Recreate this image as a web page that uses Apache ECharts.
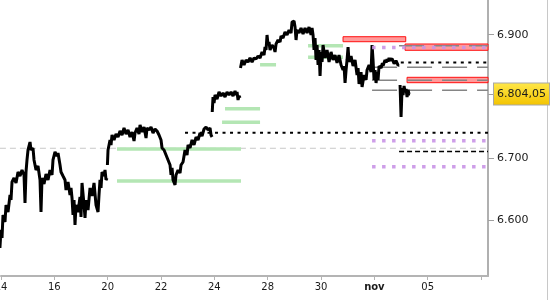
<!DOCTYPE html>
<html><head><meta charset="utf-8">
<script src="https://cdn.jsdelivr.net/npm/echarts@6/dist/echarts.min.js"></script>
<style>html,body{margin:0;padding:0;background:#fff}#c{width:550px;height:300px}</style>
</head><body><div id="c"></div>
<script>
// x axis: trading days since Oct 14 (0 = Oct 14, 14 = Nov 3)
const xTickValues = [0, 2, 4, 6, 8, 10, 12, 14, 16];
const xTickLabels = ['14', '16', '20', '22', '24', '28', '30', 'nov', '05'];
const xTickMarks = [0, 2, 4, 6, 8, 10, 12, 14, 16, 18];
const xMax = 18.26;
const yMin = 6509.6, yMax = 6956.2;
const yTickValues = [6600, 6700, 6900];
const lastPrice = 6804.05;

// price segments [tradingDay, price]
const seg1 = [[-0.04,6554.9],[0,6584.1],[0.038,6571.1],[0.075,6608.3],[0.15,6597.0],[0.188,6624.5],[0.263,6613.2],[0.338,6640.7],[0.375,6632.6],[0.413,6661.7],[0.488,6668.2],[0.563,6660.1],[0.638,6677.9],[0.713,6671.4],[0.788,6681.1],[0.863,6673.1],[0.9,6627.7],[0.938,6677.9],[0.975,6697.4],[1.013,6713.5],[1.088,6726.4],[1.125,6713.5],[1.2,6716.7],[1.238,6697.4],[1.275,6700.6],[1.313,6681.1],[1.388,6687.6],[1.463,6665.0],[1.5,6613.2],[1.538,6668.2],[1.613,6658.5],[1.688,6674.7],[1.763,6665.0],[1.838,6681.1],[1.913,6673.1],[1.95,6697.4],[2.025,6710.3],[2.1,6703.8],[2.138,6708.7],[2.213,6689.2],[2.25,6677.9],[2.325,6671.4],[2.4,6665.0],[2.438,6648.8],[2.513,6661.7],[2.588,6640.7],[2.625,6652.0],[2.663,6635.8],[2.7,6608.3],[2.738,6632.6],[2.775,6592.2],[2.813,6624.5],[2.888,6613.2],[2.963,6637.5],[3.0,6605.1],[3.038,6660.1],[3.113,6624.5],[3.15,6603.5],[3.188,6632.6],[3.263,6616.4],[3.338,6652.0],[3.413,6639.1],[3.488,6660.1],[3.563,6624.5],[3.638,6613.2],[3.675,6640.7],[3.713,6665.0],[3.75,6652.0],[3.788,6677.9],[3.863,6671.4],[3.9,6681.1],[3.938,6665.0],[3.975,6668.2]];
const seg2 = [[3.99,6689.2],[4.013,6713.5],[4.088,6729.7],[4.125,6721.6],[4.163,6737.8],[4.238,6729.7],[4.313,6739.4],[4.388,6734.5],[4.463,6744.2],[4.538,6737.8],[4.613,6749.1],[4.688,6739.4],[4.763,6745.9],[4.838,6734.5],[4.913,6742.6],[4.988,6728.1],[5.025,6741.0],[5.1,6749.1],[5.175,6739.4],[5.213,6754.0],[5.288,6742.6],[5.363,6750.7],[5.438,6732.9],[5.475,6749.1],[5.55,6745.9],[5.625,6750.7],[5.7,6741.0],[5.775,6747.5],[5.85,6744.2],[5.925,6737.8],[6.0,6729.7],[6.038,6716.7],[6.113,6713.5],[6.188,6705.4],[6.263,6697.4],[6.338,6689.2],[6.375,6673.1],[6.413,6684.4],[6.45,6665.0],[6.525,6656.9],[6.563,6673.1],[6.638,6681.1],[6.713,6676.3],[6.75,6689.2],[6.825,6694.1],[6.9,6713.5],[6.975,6705.4],[7.013,6721.6],[7.088,6716.7],[7.163,6729.7],[7.238,6721.6],[7.313,6734.5],[7.388,6729.7],[7.463,6741.0],[7.538,6736.1],[7.613,6747.5],[7.688,6750.7],[7.763,6745.9],[7.838,6749.1],[7.875,6737.8],[7.913,6734.5]];
const seg3 = [[7.92,6775.0],[7.95,6799.3],[7.988,6789.6],[8.025,6802.5],[8.1,6796.0],[8.175,6807.3],[8.25,6800.9],[8.325,6805.7],[8.4,6799.3],[8.475,6807.3],[8.55,6802.5],[8.625,6807.3],[8.7,6800.9],[8.775,6809.0],[8.813,6802.5],[8.85,6807.3],[8.888,6794.4],[8.925,6800.9],[8.963,6797.6]];
const seg4 = [[8.98,6846.2],[9.038,6859.1],[9.113,6851.0],[9.188,6859.1],[9.263,6855.9],[9.338,6862.4],[9.413,6855.9],[9.488,6862.4],[9.563,6860.7],[9.638,6865.6],[9.713,6862.4],[9.788,6872.1],[9.863,6867.2],[9.9,6880.1],[9.938,6875.3],[9.975,6899.6],[10.013,6883.4],[10.05,6888.2],[10.088,6875.3],[10.163,6883.4],[10.238,6878.5],[10.275,6872.1],[10.313,6885.0],[10.388,6891.5],[10.463,6888.2],[10.5,6898.0],[10.575,6894.7],[10.65,6904.4],[10.725,6899.6],[10.8,6907.7],[10.838,6910.9],[10.875,6902.8],[10.913,6920.6],[10.988,6922.2],[11.025,6912.5],[11.063,6891.5],[11.1,6907.7],[11.175,6902.8],[11.25,6910.9],[11.325,6901.2],[11.4,6910.9],[11.475,6902.8],[11.55,6912.5],[11.625,6899.6],[11.663,6910.9],[11.7,6899.6],[11.738,6875.3],[11.775,6894.7],[11.813,6859.1],[11.85,6883.4],[11.888,6851.0],[11.925,6875.3],[11.963,6833.2],[12.0,6872.1],[12.038,6855.9],[12.075,6883.4],[12.15,6862.4],[12.225,6875.3],[12.3,6855.9],[12.375,6872.1],[12.45,6859.1],[12.525,6867.2],[12.6,6854.3],[12.675,6867.2],[12.75,6851.0],[12.825,6842.9],[12.863,6849.4],[12.9,6821.9],[12.938,6842.9],[12.975,6859.1],[13.013,6880.1],[13.05,6855.9],[13.125,6865.6],[13.2,6849.4],[13.275,6859.1],[13.35,6834.9],[13.388,6846.2],[13.425,6820.3],[13.5,6839.7],[13.538,6815.4],[13.613,6834.9],[13.688,6826.8],[13.725,6842.9],[13.8,6851.0],[13.875,6839.7],[13.913,6883.4],[13.95,6859.1],[13.988,6826.8],[14.025,6842.9],[14.063,6821.9],[14.1,6839.7],[14.138,6826.8],[14.175,6849.4],[14.25,6846.2],[14.3,6853.9],[14.325,6849.9],[14.4,6859.1],[14.44,6855.0],[14.475,6860.7],[14.51,6856.6],[14.55,6862.4],[14.59,6858.2],[14.625,6857.5],[14.66,6861.6],[14.7,6859.1],[14.74,6853.2],[14.775,6854.3],[14.81,6858.0],[14.85,6855.9],[14.89,6850.3],[14.925,6851.0]];
const seg5 = [[14.963,6818.7],[15.0,6766.9],[15.038,6813.8],[15.075,6802.5],[15.113,6817.1],[15.15,6807.3],[15.188,6812.2],[15.225,6799.3],[15.263,6810.6],[15.3,6804.1],[15.338,6804.05]];

// levels
const greenLevels = [[4.35,9.0,6715.1],[4.35,9.0,6663.3],[8.4,9.713,6780.3],[8.288,9.713,6758.2],[9.713,10.313,6851.4],[11.513,12.825,6882.1],[11.513,12.825,6863.5]];
const redZones = [[12.825,15.176,6888.7,6896.8],[15.15,null,6874.8,6885.0],[15.225,null,6822.4,6831.1]];
const grayLevels = [[14.925,6882.3],[13.913,6847.3],[13.913,6826.3],[13.913,6810.1]];
const purpleLevels = [[13.913,6879.3],[13.913,6728.6],[13.913,6686.5]];
const dottedLevels = [[14.99,6855.1],[6.9,6741.3]];
const dashedLevels = [[14.925,6711.1]];
const refLevels = [[-0.04,6716.3]];

const FONT = 'DejaVu Sans';

function joinSegs(segs) {
  const out = [];
  segs.forEach((s, i) => { if (i) out.push([s[0][0], null]); s.forEach(p => out.push(p)); });
  return out;
}
function hLine(levels, lineStyle, z) {
  const data = [];
  levels.forEach(l => {
    const x0 = l[0], x1 = l.length === 3 ? l[1] : xMax, y = l[l.length - 1];
    data.push([x0, y], [x1, y], [x1, null]);
  });
  return { type: 'line', data, symbol: 'none', lineStyle, z, silent: true, connectNulls: false, animation: false };
}
// European format: '.' thousands separator, ',' decimal mark
function fmtEU(v, dec) {
  const s = v.toFixed(dec);
  const parts = s.split('.');
  const int = parts[0].replace(/\B(?=(\d{3})+(?!\d))/g, '.');
  return parts[1] ? int + ',' + parts[1] : int;
}

const chart = echarts.init(document.getElementById('c'), null, { renderer: 'canvas' });
chart.setOption({
  animation: false,
  backgroundColor: '#ffffff',
  grid: { left: 1, right: 62, top: 0, bottom: 24, containLabel: false, outerBoundsMode: 'none' },
  xAxis: {
    type: 'value', min: 0, max: xMax,
    splitLine: { show: false },
    axisLine: { show: true, onZero: false, lineStyle: { color: '#b4b4b4', width: 2 } },
    axisTick: { show: true, customValues: xTickMarks, length: 4, lineStyle: { color: '#b4b4b4' } },
    axisLabel: {
      customValues: xTickValues, margin: 6, fontFamily: FONT, fontSize: 10, color: '#1a1a1a',
      showMinLabel: true, showMaxLabel: true, hideOverlap: false,
      alignMinLabel: 'center', alignMaxLabel: 'center',
      formatter: v => {
        const i = xTickValues.indexOf(Math.round(v));
        const t = i >= 0 ? xTickLabels[i] : '';
        return t === 'nov' ? '{b|' + t + '}' : t;
      },
      rich: { b: { fontWeight: 'bold', fontFamily: FONT, fontSize: 10, color: '#1a1a1a' } }
    }
  },
  yAxis: {
    type: 'value', position: 'right', min: yMin, max: yMax,
    splitLine: { show: false },
    axisLine: { show: true, onZero: false, lineStyle: { color: '#b0b0b0', width: 2 } },
    axisTick: { show: true, customValues: yTickValues.concat([lastPrice]), length: 6, lineStyle: { color: '#a0a0a0' } },
    axisLabel: {
      customValues: yTickValues.concat([lastPrice]), margin: 6, fontFamily: FONT, fontSize: 11, color: '#1a1a1a',
      showMinLabel: true, showMaxLabel: true, hideOverlap: false,
      formatter: v => Math.abs(v - lastPrice) < 1e-6 ? '{cur|' + fmtEU(v, 2) + '}' : '{n|' + fmtEU(v, 0) + '}',
      rich: {
        n: { fontFamily: FONT, fontSize: 11, color: '#1a1a1a', padding: [0, 0, 0, 3] },
        cur: {
          fontFamily: FONT, fontSize: 11, color: '#1a1a1a', padding: [5, 3, 5, 3],
          borderColor: '#a8a8a8', borderWidth: 1,
          backgroundColor: new echarts.graphic.LinearGradient(0, 0, 0, 1, [
            { offset: 0, color: '#ffe84a' }, { offset: 1, color: '#f3c300' }])
        }
      }
    }
  },
  series: [
    hLine(refLevels, { color: '#c8c8c8', width: 1, type: [6, 4] }, 1),
    hLine(greenLevels, { color: '#b4e6b4', width: 3.5 }, 2),
    {
      type: 'custom', z: 3, silent: true, animation: false,
      data: redZones.map(r => [r[0], r[1] == null ? xMax : r[1], r[2], r[3]]),
      encode: { x: [0, 1], y: [2, 3] },
      renderItem: (params, api) => {
        const p0 = api.coord([api.value(0), api.value(3)]);
        const p1 = api.coord([api.value(1), api.value(2)]);
        return { type: 'rect', shape: { x: p0[0], y: p0[1], width: p1[0] - p0[0], height: p1[1] - p0[1] },
          style: { fill: '#ff9a9a', stroke: '#ff1010', lineWidth: 1 } };
      }
    },
    hLine(grayLevels, { color: '#858585', width: 1.5, type: [25, 10] }, 4),
    hLine(dottedLevels, { color: '#000000', width: 2, type: [3, 4.5] }, 4),
    hLine(dashedLevels, { color: '#000000', width: 1.5, type: [5, 3] }, 4),
    {
      type: 'line', data: joinSegs([seg1, seg2, seg3, seg4, seg5]), symbol: 'none', z: 6,
      connectNulls: false, silent: true, animation: false,
      lineStyle: { color: '#000000', width: 3, join: 'bevel' }
    },
    hLine(purpleLevels, { color: '#c993e6', width: 3.5, type: [3.5, 6.5], opacity: 0.9 }, 7)
  ],
  graphic: [{ type: 'line', shape: { x1: 547.5, y1: 0, x2: 547.5, y2: 300 }, style: { stroke: '#c8c8c8', lineWidth: 1 }, silent: true }]
});
</script>
</body></html>
